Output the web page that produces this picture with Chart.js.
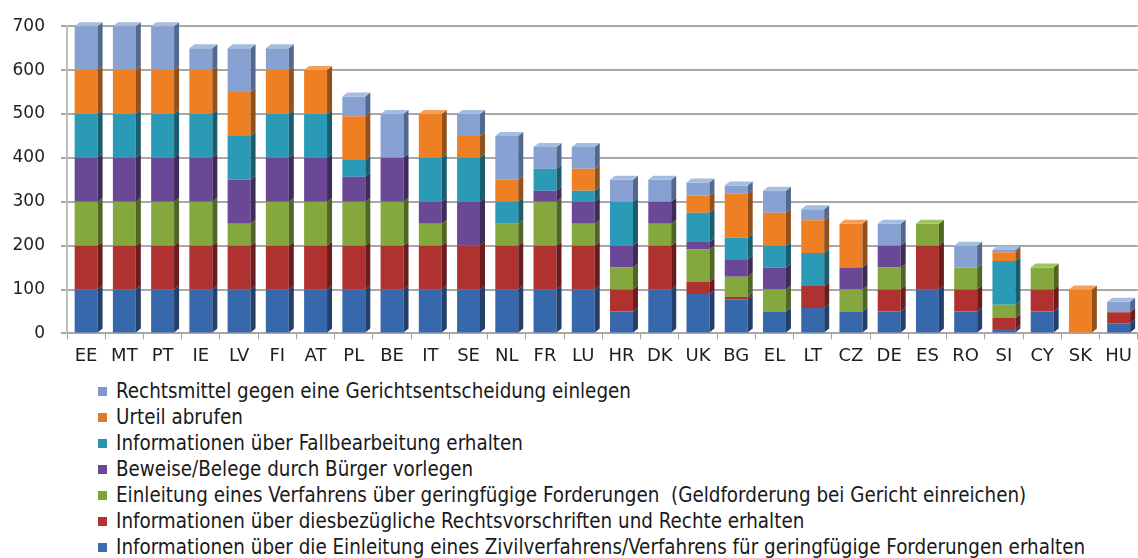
<!DOCTYPE html>
<html>
<head>
<meta charset="utf-8">
<script src="https://cdn.jsdelivr.net/npm/chart.js@4.4.1/dist/chart.umd.min.js"></script>
<style>
html, body { margin: 0; padding: 0; background: #fff; }
#wrap { position: relative; width: 1138px; height: 558px; }
#chartBox { position: absolute; left: 0; top: 0; width: 1138px; height: 376px; }
#legend { position: absolute; left: 98px; top: 378px; font-family: "DejaVu Sans Condensed", "DejaVu Sans"; font-stretch: condensed; font-size: 19px; color: #1a1a1a; }
.row { height: 26px; display: flex; align-items: center; white-space: pre; }
.sw { width: 9px; height: 9px; margin-right: 9px; flex: none; }
</style>
</head>
<body>
<div id="wrap">
  <div id="chartBox"><canvas id="chart"></canvas></div>
  <div id="legend"></div>
</div>
<script>
// ---------- DATA ----------
const countries = ['EE','MT','PT','IE','LV','FI','AT','PL','BE','IT','SE','NL','FR','LU','HR','DK','UK','BG','EL','LT','CZ','DE','ES','RO','SI','CY','SK','HU'];

const seriesNames = [
  'Informationen über die Einleitung eines Zivilverfahrens/Verfahrens für geringfügige Forderungen erhalten',
  'Informationen über diesbezügliche Rechtsvorschriften und Rechte erhalten',
  'Einleitung eines Verfahrens über geringfügige Forderungen  (Geldforderung bei Gericht einreichen)',
  'Beweise/Belege durch Bürger vorlegen',
  'Informationen über Fallbearbeitung erhalten',
  'Urteil abrufen',
  'Rechtsmittel gegen eine Gerichtsentscheidung einlegen'
];

const einleitung   = [100,100,100,100,100,100,100,100,100,100,100,100,100,100, 50,100, 90, 78, 50, 58, 50, 50,100, 50, 10, 50,  0, 23];
const rechte       = [100,100,100,100,100,100,100,100,100,100,100,100,100,100, 50,100, 27,  5,  0, 50,  0, 50,100, 50, 25, 50,  0, 25];
const forderungen  = [100,100,100,100, 50,100,100,100,100, 50,  0, 50,100, 50, 50, 50, 74, 46, 50,  0, 50, 50, 50, 50, 30, 50,  0,  0];
const beweise      = [100,100,100,100,100,100,100, 57,100, 50,100,  0, 25, 50, 50, 50, 17, 40, 50,  0, 50, 50,  0,  0,  0,  0,  0,  0];
const fallbearb    = [100,100,100,100,100,100,100, 38,  0,100,100, 50, 50, 25,100,  0, 67, 49, 50, 75,  0,  0,  0,  0,100,  0,  0,  0];
const urteil       = [100,100,100,100,100,100,100,100,  0,100, 50, 50,  0, 50,  0,  0, 39,100, 75, 75,100,  0,  0,  0, 20,  0,100,  0];
const rechtsmittel = [100,100,100, 50,100, 50,  0, 45,100,  0, 50,100, 50, 50, 50, 50, 30, 19, 50, 25,  0, 50,  0, 50,  5,  0,  0, 24];

const yTicks = [0,100,200,300,400,500,600,700];

// ---------- STYLE ----------
const frontColors = ['#3868ac','#b03230','#84a83d','#6a4896','#2a9ab6','#ee7f22','#87a2d2'];
const sideColors  = ['#233f6a','#6a1d1c','#4f6625','#3f2b5a','#1a5d6e','#92501a','#52688f'];
const topColors   = ['#5a86c4','#c85654','#a2c460','#8a6cb2','#56b6cc','#f5a05a','#a6bce0'];
const legendColors = ['#3b6db3','#b53333','#7ea33b','#6a4797','#2894ae','#e07a28','#7f98c8'];

// ---------- 3D FACES ----------
const bar3d = {
  id: 'bar3d',
  afterDatasetsDraw(chart) {
    const ctx = chart.ctx;
    const dx = 5, dy = 4;
    ctx.save();
    for (let i = 0; i < chart.data.labels.length; i++) {
      let topEl = null, topIdx = -1;
      chart.data.datasets.forEach((ds, d) => {
        const el = chart.getDatasetMeta(d).data[i];
        if (!el || !(ds.data[i] > 0)) return;
        const r = el.x + el.width / 2;
        ctx.fillStyle = sideColors[d];
        ctx.beginPath();
        ctx.moveTo(r, el.y);
        ctx.lineTo(r + dx, el.y - dy);
        ctx.lineTo(r + dx, el.base - dy);
        ctx.lineTo(r, el.base);
        ctx.closePath();
        ctx.fill();
        topEl = el; topIdx = d;
      });
      if (topEl) {
        const l = topEl.x - topEl.width / 2, r = topEl.x + topEl.width / 2;
        ctx.fillStyle = topColors[topIdx];
        ctx.beginPath();
        ctx.moveTo(l, topEl.y);
        ctx.lineTo(l + dx, topEl.y - dy);
        ctx.lineTo(r + dx, topEl.y - dy);
        ctx.lineTo(r, topEl.y);
        ctx.closePath();
        ctx.fill();
      }
    }
    ctx.restore();
  }
};

// ---------- CHART ----------
const allSeries = [einleitung, rechte, forderungen, beweise, fallbearb, urteil, rechtsmittel];

const chart = new Chart(document.getElementById('chart'), {
  type: 'bar',
  data: {
    labels: countries,
    datasets: allSeries.map((vals, k) => ({
      label: seriesNames[k],
      data: vals,
      backgroundColor: frontColors[k],
      borderWidth: 0,
      barPercentage: 0.6,
      categoryPercentage: 1
    }))
  },
  options: {
    responsive: true,
    maintainAspectRatio: false,
    animation: false,
    layout: { padding: { left: 12, right: 0, top: 5, bottom: 3 } },
    plugins: { legend: { display: false }, tooltip: { enabled: false } },
    scales: {
      x: {
        stacked: true,
        grid: { drawOnChartArea: false, drawTicks: true, tickLength: 6, color: '#a0a0a0', offset: true },
        border: { display: false },
        ticks: { padding: 6, color: '#1e1e1e', font: { family: 'DejaVu Sans', size: 18 } }
      },
      y: {
        stacked: true,
        min: 0,
        max: 700,
        afterBuildTicks: (axis) => { axis.ticks = yTicks.map(v => ({ value: v })); },
        afterFit: (axis) => { axis.width = 55; },
        grid: { color: '#a8a8a8', lineWidth: 2, tickLength: 6 },
        border: { display: true, color: '#bdbdbd', width: 2 },
        ticks: { padding: 16, color: '#1e1e1e', font: { family: 'DejaVu Sans', size: 17 } }
      }
    }
  },
  plugins: [bar3d]
});

// ---------- LEGEND ----------
const legend = document.getElementById('legend');
const texts = [];
for (let k = seriesNames.length - 1; k >= 0; k--) {
  const row = document.createElement('div');
  row.className = 'row';
  const sw = document.createElement('span');
  sw.className = 'sw';
  sw.style.background = legendColors[k];
  const txt = document.createElement('span');
  txt.textContent = chart.data.datasets[k].label;
  row.appendChild(sw);
  row.appendChild(txt);
  legend.appendChild(row);
  texts.push(txt);
}
// fit the longest legend line to the width it has in the picture
const longest = texts[texts.length - 1];
const w = longest.getBoundingClientRect().width;
if (w > 0) legend.style.fontSize = (19 * 970 / w).toFixed(2) + 'px';
</script>
</body>
</html>
